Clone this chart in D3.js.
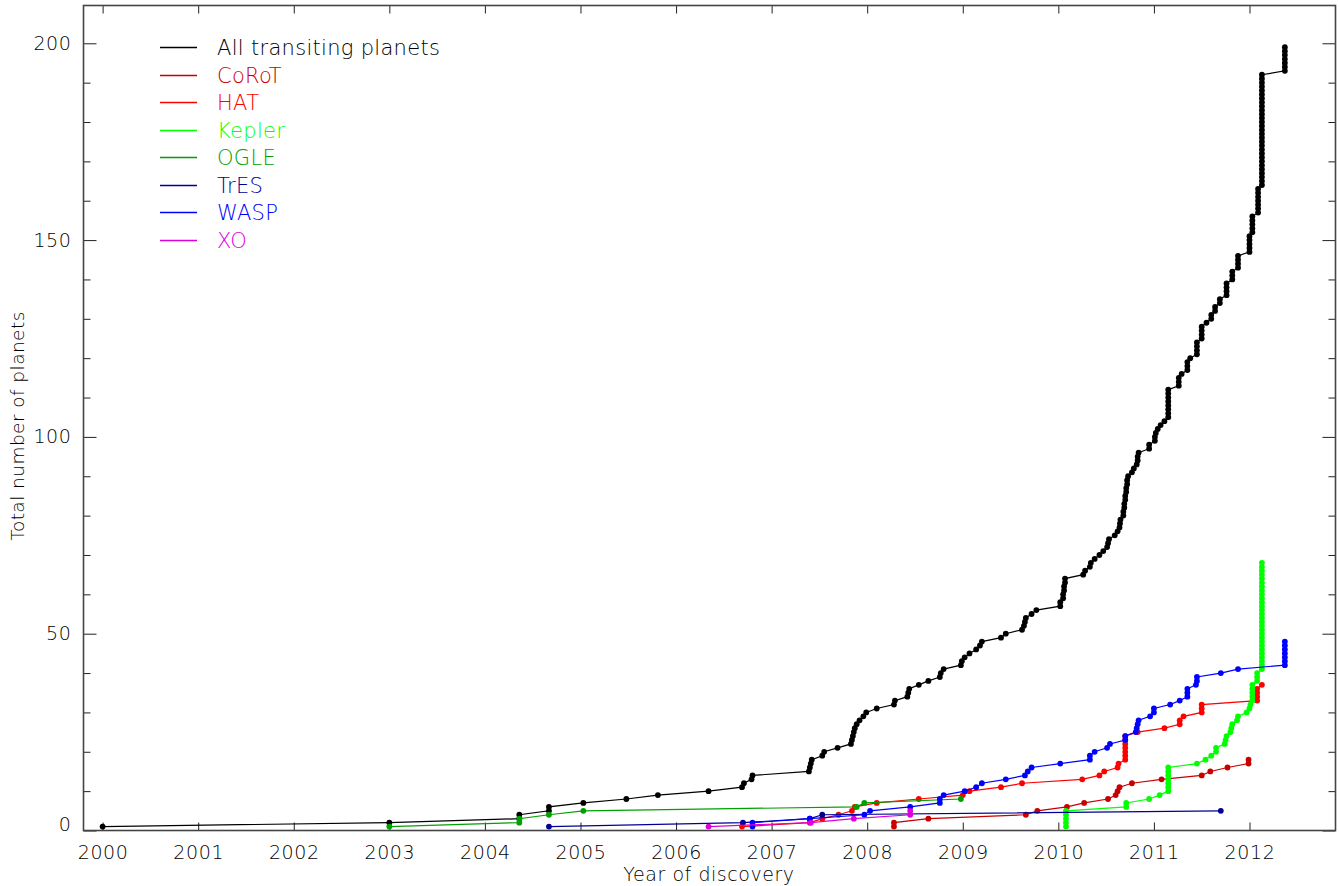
<!DOCTYPE html>
<html><head><meta charset="utf-8">
<script src="https://cdn.jsdelivr.net/npm/d3@7"></script>
<style>
html,body{margin:0;padding:0;background:#fff;}
svg{display:block;}
text{font-family:"DejaVu Sans ExtraLight","DejaVu Sans","Liberation Sans",sans-serif;font-weight:200;fill:#000;}
</style></head><body>
<svg id="chart" width="1340" height="886"></svg>
<script>
// ---------- DATA (discovery dates, one entry per planet; count = running total) ----------
const xTickYears = [2000,2001,2002,2003,2004,2005,2006,2007,2008,2009,2010,2011,2012];
const yMajorTicks = [0,50,100,150,200];
const yMinorTicks = [10,20,30,40,60,70,80,90,110,120,130,140,160,170,180,190];

const allDates = [
 2000.00,2003.00,2004.36,2004.36,2004.67,2004.67,2005.03,2005.48,2005.81,2006.34,2006.69,2006.71,
 2006.79,2006.80,2007.39,2007.40,2007.41,2007.42,2007.53,2007.55,2007.69,2007.83,
 2007.84,2007.85,2007.86,2007.87,2007.89,2007.92,2007.96,2007.99,2008.10,2008.28,2008.29,
 2008.42,2008.43,2008.44,2008.54,2008.64,2008.76,2008.77,2008.80,2008.98,2008.99,
 2009.02,2009.07,2009.14,2009.18,2009.20,2009.40,2009.45,2009.62,2009.64,2009.65,2009.66,
 2009.72,2009.77,2010.02,2010.02,2010.05,2010.05,2010.06,2010.06,2010.07,2010.07,
 2010.26,2010.28,2010.33,2010.34,2010.38,2010.43,2010.47,2010.51,2010.52,2010.53,
 2010.59,2010.62,2010.64,2010.645,2010.65,
 2010.68,2010.68,2010.69,2010.69,2010.70,2010.70,2010.71,2010.71,2010.72,2010.72,2010.73,
 2010.77,2010.79,2010.82,2010.83,2010.83,2010.84,2010.95,2010.95,2011.01,2011.01,2011.02,
 2011.04,2011.07,2011.11,
 2011.15,2011.15,2011.15,2011.15,2011.15,2011.15,2011.15,2011.15,
 2011.26,2011.26,2011.26,2011.29,2011.35,2011.35,2011.35,2011.38,
 2011.45,2011.45,2011.45,2011.45,2011.50,2011.50,2011.50,2011.50,2011.55,
 2011.60,2011.60,2011.64,2011.64,2011.69,2011.69,
 2011.76,2011.76,2011.76,2011.76,2011.82,2011.82,2011.82,2011.88,2011.88,2011.88,2011.88,
 2012.00,2012.00,2012.00,2012.00,2012.00,2012.03,2012.03,2012.03,2012.03,2012.03,
 2012.09,2012.09,2012.09,2012.09,2012.09,2012.09,2012.09,
 2012.13,2012.13,2012.13,2012.13,2012.13,2012.13,2012.13,2012.13,2012.13,2012.13,
 2012.13,2012.13,2012.13,2012.13,2012.13,2012.13,2012.13,2012.13,2012.13,2012.13,
 2012.13,2012.13,2012.13,2012.13,2012.13,2012.13,2012.13,2012.13,2012.13,
 2012.37,2012.37,2012.37,2012.37,2012.37,2012.37,2012.37
];
const corotDates = [
 2008.28,2008.28,2008.64,2009.66,2009.78,2010.09,2010.27,2010.52,2010.60,2010.62,2010.64,
 2010.77,2011.08,2011.50,2011.59,2011.77,2011.99,2011.99
];
const hatDates = [
 2006.69,2007.40,2007.53,2007.70,2007.84,2007.87,2008.10,2008.54,2009.00,2009.07,2009.40,
 2009.62,2010.25,2010.43,2010.48,2010.62,2010.63,
 2010.70,2010.70,2010.70,2010.70,2010.70,2010.70,2010.70,
 2010.83,2011.11,2011.27,2011.27,2011.31,2011.50,2011.50,2011.50,
 2012.08,2012.08,2012.08,2012.08,2012.13
];
const keplerDates = [
 2010.08,2010.08,2010.08,2010.08,2010.08,2010.71,2010.71,2010.95,2011.06,
 2011.15,2011.15,2011.15,2011.15,2011.15,2011.15,2011.15,
 2011.45,2011.54,2011.60,2011.65,2011.65,2011.74,2011.75,2011.76,2011.80,2011.81,2011.82,
 2011.87,2011.88,2011.97,2012.00,2012.01,2012.03,2012.03,2012.03,2012.03,2012.03,
 2012.08,2012.08,2012.08,
 2012.13,2012.13,2012.13,2012.13,2012.13,2012.13,2012.13,2012.13,2012.13,2012.13,
 2012.13,2012.13,2012.13,2012.13,2012.13,2012.13,2012.13,2012.13,2012.13,2012.13,
 2012.13,2012.13,2012.13,2012.13,2012.13,2012.13,2012.13,2012.13
];
const ogleDates = [2003.00,2004.36,2004.36,2004.67,2005.03,2007.89,2007.97,2008.98];
const tresDates = [2004.67,2006.70,2007.40,2007.53,2011.70];
const waspDates = [
 2006.80,2006.80,2007.40,2007.97,2008.03,2008.45,2008.76,2008.76,2008.80,2009.02,2009.14,
 2009.20,2009.45,2009.65,2009.68,2009.72,2010.02,2010.33,2010.33,2010.38,2010.51,2010.54,
 2010.70,2010.70,2010.81,2010.82,2010.83,2010.84,2010.96,2011.00,2011.00,2011.17,2011.27,
 2011.35,2011.35,2011.35,2011.44,2011.45,2011.45,2011.70,2011.88,
 2012.37,2012.37,2012.37,2012.37,2012.37,2012.37,2012.37
];
const xoDates = [2006.34,2007.41,2007.86,2008.45,2008.45];

const seriesNames  = ["All transiting planets","CoRoT","HAT","Kepler","OGLE","TrES","WASP","XO"];
const seriesColors = ["#000000","#c80000","#ff0000","#00ff00","#00a000","#000096","#0000ff","#dc00dc"];
const seriesDates  = [allDates,corotDates,hatDates,keplerDates,ogleDates,tresDates,waspDates,xoDates];

// ---------- LAYOUT ----------
const plot = {left: 83.5, right: 1335.5, top: 5.5, bottom: 830.5};
const svg = d3.select("#chart");

const x = d3.scaleLinear().domain([1999.8, 2012.9]).range([plot.left, plot.right]);
const y = d3.scaleLinear().domain([0, 209.6]).range([plot.bottom, plot.top]);

// axes (ticks pointing inward)
svg.append("g").attr("transform", `translate(0,${plot.bottom})`)
  .call(d3.axisBottom(x).tickValues(xTickYears).tickFormat(d3.format("d")).tickSize(-8).tickPadding(15));
svg.append("g").attr("transform", `translate(0,${plot.top})`)
  .call(d3.axisTop(x).tickValues(xTickYears).tickFormat("").tickSize(-8));
const axLeft = svg.append("g").attr("transform", `translate(${plot.left},0)`)
  .call(d3.axisLeft(y).tickValues(yMajorTicks).tickFormat(d3.format("d")).tickSize(-13).tickPadding(12));
svg.append("g").attr("transform", `translate(${plot.left},0)`)
  .call(d3.axisLeft(y).tickValues(yMinorTicks).tickFormat("").tickSize(-7));
svg.append("g").attr("transform", `translate(${plot.right},0)`)
  .call(d3.axisRight(y).tickValues(yMajorTicks).tickFormat("").tickSize(-13));
svg.append("g").attr("transform", `translate(${plot.right},0)`)
  .call(d3.axisRight(y).tickValues(yMinorTicks).tickFormat("").tickSize(-7));

svg.selectAll(".domain").remove();
svg.selectAll(".tick line").attr("stroke", "#222").attr("stroke-width", 1);
svg.selectAll(".tick text").attr("font-size", 19).attr("fill", "#000")
  .attr("font-family", null).attr("letter-spacing", 0.6);
// the bottom "0" label sits a little above its tick, as in the original
axLeft.selectAll(".tick text").filter(d => d === 0).attr("dy", "0.02em");

// frame
svg.append("rect").attr("x", plot.left).attr("y", plot.top)
  .attr("width", plot.right - plot.left).attr("height", plot.bottom - plot.top)
  .attr("fill", "none").attr("stroke", "#444").attr("stroke-width", 1.6);

// axis titles
svg.append("text").attr("x", 709).attr("y", 881)
  .attr("text-anchor", "middle").attr("font-size", 19).attr("letter-spacing", 0.55).text("Year of discovery");
svg.append("text").attr("transform", "translate(24,426) rotate(-90)")
  .attr("text-anchor", "middle").attr("font-size", 18.5).attr("letter-spacing", 0.45).text("Total number of planets");

// series
const line = d3.line().x(d => x(d.date)).y(d => y(d.count));
const gSeries = svg.append("g");
seriesNames.forEach((name, si) => {
  const pts = seriesDates[si].map((d, i) => ({date: d, count: i + 1}));
  const g = gSeries.append("g");
  g.append("path").datum(pts).attr("d", line).attr("fill", "none")
    .attr("stroke", seriesColors[si]).attr("stroke-width", 1.2);
  g.selectAll("circle").data(pts).join("circle")
    .attr("cx", d => x(d.date)).attr("cy", d => y(d.count)).attr("r", 2.9)
    .attr("fill", seriesColors[si]);
});

// legend
const legend = svg.append("g");
seriesNames.forEach((name, i) => {
  const ly = Math.round(47 + i * 27.5) + 0.5;
  legend.append("line").attr("x1", 160).attr("x2", 197).attr("y1", ly).attr("y2", ly)
    .style("stroke", seriesColors[i]).style("stroke-width", 1.4);
  legend.append("text").attr("x", 217).attr("y", ly + 7.5).attr("font-size", 21).attr("letter-spacing", 0.3)
    .style("fill", seriesColors[i]).text(name);
});
</script>
</body></html>
